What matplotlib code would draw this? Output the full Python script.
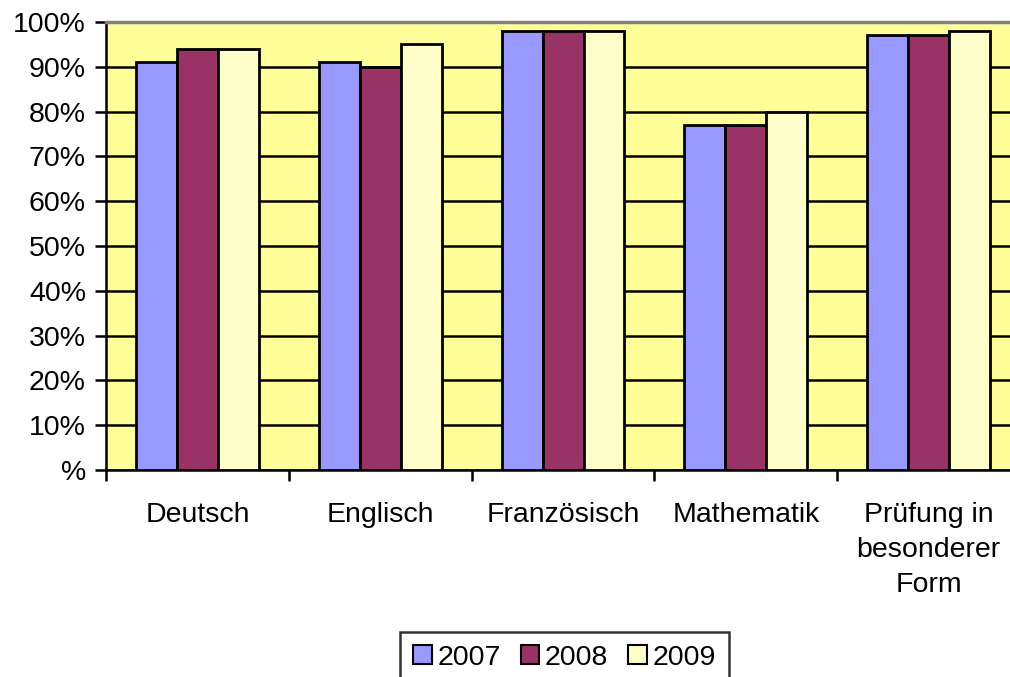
import numpy as np
import matplotlib.pyplot as plt
from matplotlib.patches import Patch

plt.rcParams['font.family'] = ['Liberation Sans', 'DejaVu Sans']

categories = ["Deutsch", "Englisch", "Französisch", "Mathematik", "Prüfung in\nbesonderer\nForm"]
years = ["2007", "2008", "2009"]
values_2007 = [91, 91, 98, 77, 97]
values_2008 = [94, 90, 98, 77, 97]
values_2009 = [94, 95, 98, 80, 98]
colors = ["#9999FF", "#993366", "#FFFFCC"]
ytick_labels = ["%"] + ["{}%".format(v) for v in range(10, 101, 10)]

fs = 20.5

fig = plt.figure(figsize=(10.1, 6.77), dpi=100)
ax = fig.add_axes([0.105, 0.3058, 0.905, 0.6617])
ax.set_facecolor("#FFFF99")

x = np.arange(len(categories))
w = 0.224
for i, (vals, c) in enumerate(zip([values_2007, values_2008, values_2009], colors)):
    ax.bar(x + (i - 1) * w, vals, width=w, color=c, edgecolor="black",
           linewidth=2, zorder=3)

ax.set_xlim(-0.5, len(categories) - 0.5)
ax.set_ylim(0, 100)
ax.set_yticks(range(0, 101, 10))
ax.set_yticklabels(ytick_labels, fontsize=fs)
ax.yaxis.grid(True, color="black", linewidth=1.8, zorder=0)
ax.set_axisbelow(True)

ax.set_xticks(x)
ax.set_xticklabels(categories, fontsize=fs, linespacing=1.45)
ax.tick_params(axis="x", which="major", length=0, pad=23)
ax.set_xticks(np.arange(-0.5, len(categories), 1), minor=True)
ax.tick_params(axis="x", which="minor", length=8, width=1.8, direction="out")
ax.tick_params(axis="y", length=8, width=1.8, direction="out", pad=6.5)

for s in ["left", "bottom"]:
    ax.spines[s].set_linewidth(1.8)
    ax.spines[s].set_color("black")
ax.spines["top"].set_color("#808080")
ax.spines["top"].set_linewidth(2.5)
ax.spines["right"].set_visible(False)

handles = [Patch(facecolor=c, edgecolor="black", linewidth=1.5) for c in colors]
leg = fig.legend(handles, years, loc="upper center", bbox_to_anchor=(0.559, 1 - 632 / 677),
                 ncol=3, fontsize=fs, frameon=True, fancybox=False,
                 handlelength=0.65, handleheight=0.65, handletextpad=0.2,
                 columnspacing=0.7, borderpad=0.45, borderaxespad=0)
leg.get_frame().set_edgecolor("black")
leg.get_frame().set_linewidth(1.8)

fig.savefig("out.png", dpi=100)
